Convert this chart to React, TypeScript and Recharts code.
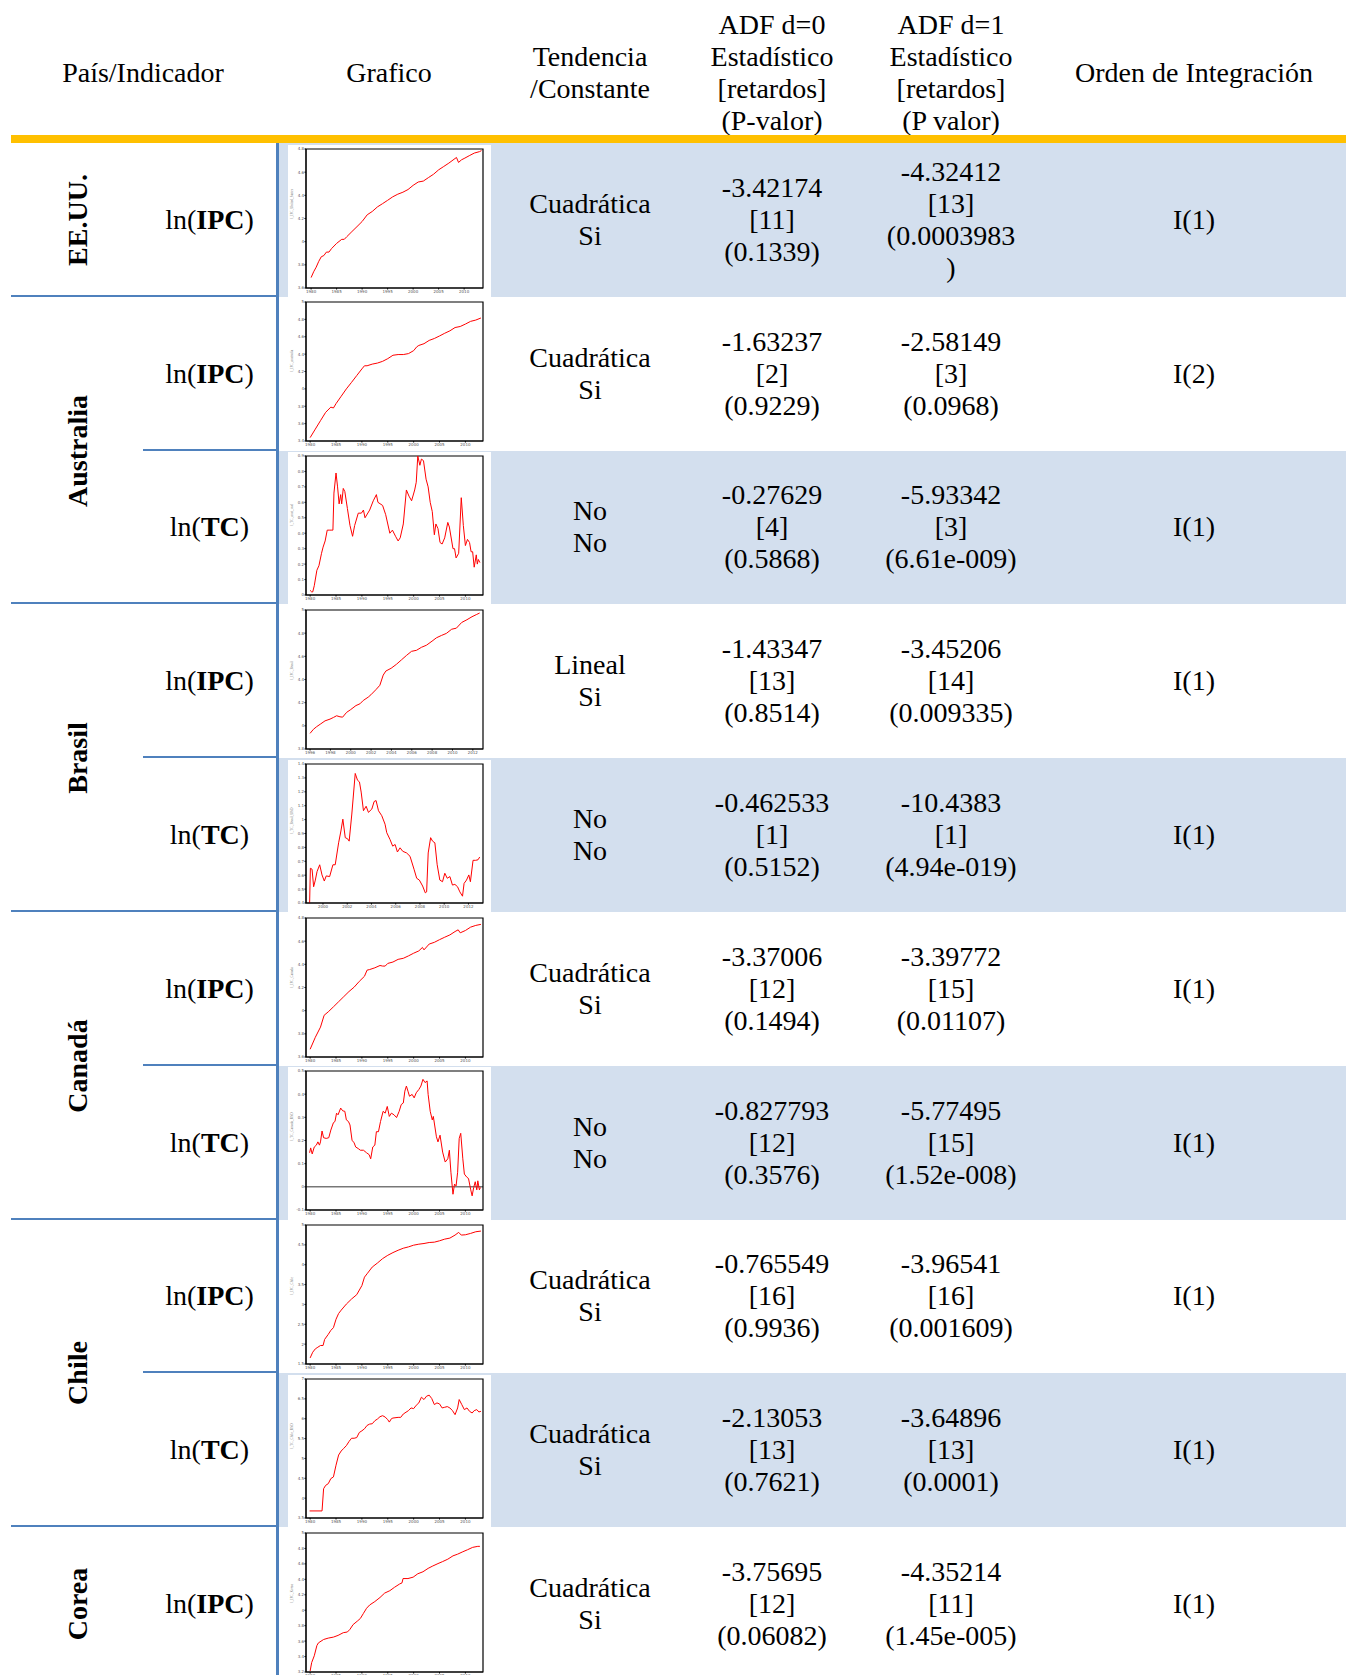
import { LineChart, Line, XAxis, YAxis, ReferenceLine, ReferenceArea } from 'recharts';

type Pt = [number, number];

// ---- series (year, value) ----
const usIpc: Pt[] = [
  [1980.0, 3.69], [1980.5, 3.74], [1981, 3.78], [1981.5, 3.83], [1982, 3.87], [1982.5, 3.88],
  [1983, 3.91], [1983.5, 3.91], [1984, 3.94], [1985, 3.985], [1986, 4.02], [1986.5, 4.02],
  [1987, 4.043], [1988, 4.087], [1989, 4.13], [1990, 4.174], [1991, 4.232], [1992, 4.261],
  [1993, 4.3], [1994, 4.328], [1995, 4.357], [1996, 4.387], [1997, 4.41], [1998, 4.427],
  [1999, 4.45], [2000, 4.486], [2001, 4.515], [2002, 4.523], [2003, 4.553], [2004, 4.582],
  [2005, 4.62], [2006, 4.649], [2007, 4.678], [2008.5, 4.727], [2008.9, 4.684], [2009.5, 4.707],
  [2010, 4.718], [2011, 4.742], [2012, 4.765], [2013, 4.777], [2013.4, 4.786],
];

const ausIpc: Pt[] = [
  [1980, 3.439], [1981, 3.537], [1982, 3.634], [1983, 3.73], [1984, 3.79], [1984.5, 3.78],
  [1985, 3.83], [1986, 3.915], [1987, 4.0], [1988, 4.075], [1989, 4.153], [1990, 4.23],
  [1990.5, 4.266], [1991, 4.266], [1992, 4.285], [1993, 4.297], [1994, 4.317], [1995, 4.348],
  [1996, 4.387], [1997, 4.395], [1998, 4.395], [1999, 4.406], [2000, 4.44], [2000.6, 4.484],
  [2001, 4.5], [2002, 4.52], [2003, 4.558], [2004, 4.58], [2005, 4.609], [2006, 4.64],
  [2007, 4.668], [2008, 4.706], [2009, 4.718], [2010, 4.746], [2011, 4.777], [2012, 4.792],
  [2013, 4.816],
];

const ausTc: Pt[] = [
  [1980.0, 0.03], [1980.3, 0.02], [1980.5, 0.02], [1980.8, 0.06], [1981.3, 0.16], [1981.7, 0.19],
  [1982.2, 0.27], [1982.5, 0.31], [1982.9, 0.35], [1983.3, 0.42], [1983.8, 0.42], [1984.2, 0.42],
  [1984.4, 0.42], [1984.6, 0.66], [1985.0, 0.79], [1985.3, 0.7], [1985.6, 0.59], [1985.9, 0.65],
  [1986.1, 0.59], [1986.4, 0.69], [1986.7, 0.67], [1987.2, 0.56], [1987.7, 0.45], [1988.2, 0.38],
  [1988.6, 0.45], [1989.3, 0.53], [1989.9, 0.53], [1990.3, 0.55], [1990.6, 0.5], [1991.5, 0.55],
  [1992.2, 0.61], [1992.8, 0.65], [1993.1, 0.6], [1994.0, 0.58], [1994.6, 0.52], [1995.4, 0.4],
  [1995.9, 0.42], [1996.5, 0.38], [1997.0, 0.35], [1997.4, 0.37], [1998.0, 0.46], [1998.6, 0.68],
  [1999.1, 0.64], [1999.6, 0.61], [2000.2, 0.68], [2000.5, 0.73], [2000.8, 0.9], [2001.2, 0.84],
  [2001.5, 0.88], [2001.9, 0.87], [2002.4, 0.75], [2002.8, 0.7], [2003.2, 0.6], [2003.6, 0.54],
  [2004.0, 0.39], [2004.3, 0.46], [2004.7, 0.43], [2005.1, 0.34], [2005.5, 0.33], [2006.0, 0.37],
  [2006.6, 0.47], [2006.9, 0.44], [2007.6, 0.3], [2007.9, 0.3], [2008.2, 0.24], [2008.7, 0.27],
  [2009.2, 0.63], [2009.6, 0.45], [2010.0, 0.32], [2010.4, 0.36], [2010.8, 0.34], [2011.1, 0.28],
  [2011.4, 0.28], [2011.7, 0.18], [2012.1, 0.26], [2012.3, 0.2], [2012.5, 0.23], [2012.8, 0.21],
];

const braIpc: Pt[] = [
  [1996.0, 3.935], [1996.33, 3.97], [1996.65, 3.993], [1997.0, 4.014], [1997.47, 4.043],
  [1997.96, 4.058], [1998.29, 4.072], [1998.61, 4.087], [1998.94, 4.078], [1999.2, 4.075],
  [1999.59, 4.116], [1999.99, 4.14], [2000.51, 4.175], [2000.9, 4.19], [2001.23, 4.219],
  [2001.72, 4.248], [2001.98, 4.268], [2002.47, 4.312], [2002.86, 4.35], [2003.19, 4.438],
  [2003.45, 4.473], [2003.97, 4.497], [2004.5, 4.532], [2004.99, 4.57], [2005.48, 4.608],
  [2005.97, 4.643], [2006.46, 4.652], [2006.95, 4.678], [2007.44, 4.696], [2007.99, 4.731],
  [2008.42, 4.76], [2008.91, 4.78], [2009.4, 4.798], [2009.92, 4.834], [2010.38, 4.843],
  [2010.9, 4.892], [2011.42, 4.916], [2011.92, 4.942], [2012.34, 4.96], [2012.67, 4.974],
];

const braTc: Pt[] = [
  [1998.9, 0.4], [1998.96, 0.65], [1999.1, 0.643], [1999.23, 0.517], [1999.37, 0.565],
  [1999.51, 0.626], [1999.73, 0.675], [1999.92, 0.602], [2000.11, 0.558], [2000.27, 0.595],
  [2000.55, 0.59], [2000.82, 0.675], [2001.01, 0.675], [2001.29, 0.833], [2001.48, 0.918],
  [2001.64, 1.003], [2001.84, 0.87], [2002.03, 0.862], [2002.16, 0.845], [2002.38, 1.04],
  [2002.66, 1.332], [2002.85, 1.283], [2003.01, 1.271], [2003.15, 1.198], [2003.34, 1.064],
  [2003.56, 1.096], [2003.75, 1.052], [2004.03, 1.076], [2004.22, 1.13], [2004.38, 1.137],
  [2004.58, 1.064], [2004.85, 1.028], [2005.12, 0.967], [2005.26, 0.906], [2005.53, 0.857],
  [2005.75, 0.809], [2005.95, 0.821], [2006.14, 0.767], [2006.36, 0.797], [2006.58, 0.772],
  [2006.9, 0.76], [2007.18, 0.736], [2007.51, 0.643], [2007.73, 0.578], [2007.95, 0.565],
  [2008.22, 0.522], [2008.44, 0.473], [2008.55, 0.48], [2008.68, 0.76], [2008.88, 0.87],
  [2009.04, 0.845], [2009.23, 0.833], [2009.42, 0.675], [2009.64, 0.565], [2009.86, 0.553],
  [2010.05, 0.614], [2010.25, 0.578], [2010.47, 0.59], [2010.68, 0.529], [2010.88, 0.534],
  [2011.1, 0.517], [2011.29, 0.48], [2011.51, 0.449], [2011.64, 0.541], [2011.84, 0.565],
  [2012.03, 0.602], [2012.16, 0.553], [2012.38, 0.707], [2012.6, 0.707], [2012.79, 0.711],
  [2012.93, 0.731],
];

const canIpc: Pt[] = [
  [1980, 3.667], [1981, 3.77], [1982, 3.858], [1982.7, 3.96], [1983.5, 3.99], [1984.5, 4.033],
  [1985.5, 4.077], [1986.5, 4.121], [1987.5, 4.165], [1988.5, 4.203], [1989.5, 4.253],
  [1990.5, 4.297], [1991, 4.35], [1991.5, 4.355], [1992.5, 4.37], [1993.5, 4.39], [1994, 4.385],
  [1994.5, 4.385], [1995, 4.408], [1996, 4.42], [1997, 4.443], [1998, 4.452], [1999, 4.473],
  [2000, 4.496], [2001, 4.516], [2001.7, 4.546], [2002, 4.525], [2003, 4.575], [2004, 4.59],
  [2005, 4.613], [2006, 4.634], [2007, 4.654], [2008, 4.683], [2008.6, 4.698], [2009, 4.672],
  [2010, 4.692], [2011, 4.721], [2012, 4.736], [2013, 4.745],
];

const canTc: Pt[] = [
  [1979.9, 0.147], [1980.1, 0.168], [1980.4, 0.142], [1980.8, 0.172], [1981.2, 0.18], [1981.5, 0.194],
  [1981.8, 0.18], [1982.0, 0.194], [1982.3, 0.241], [1982.6, 0.212], [1983.1, 0.209], [1983.6, 0.212],
  [1984.0, 0.245], [1984.5, 0.277], [1984.8, 0.282], [1985.1, 0.318], [1985.4, 0.311], [1985.9, 0.34],
  [1986.3, 0.328], [1986.7, 0.326], [1987.0, 0.289], [1987.4, 0.282], [1987.7, 0.267], [1988.1, 0.201],
  [1988.5, 0.19], [1988.8, 0.172], [1989.3, 0.165], [1989.7, 0.158], [1990.3, 0.158], [1990.9, 0.147],
  [1991.4, 0.139], [1991.7, 0.121], [1992.1, 0.172], [1992.5, 0.18], [1992.8, 0.238], [1993.2, 0.238],
  [1993.6, 0.282], [1994.1, 0.326], [1994.5, 0.318], [1994.9, 0.347], [1995.3, 0.304], [1995.7, 0.318],
  [1996.2, 0.311], [1996.7, 0.299], [1997.2, 0.326], [1997.6, 0.355], [1998.0, 0.362], [1998.3, 0.413],
  [1998.6, 0.435], [1998.9, 0.413], [1999.2, 0.391], [1999.7, 0.399], [2000.1, 0.384], [2000.5, 0.406],
  [2001.0, 0.42], [2001.4, 0.435], [2001.8, 0.464], [2002.2, 0.45], [2002.6, 0.457], [2002.8, 0.399],
  [2003.2, 0.326], [2003.6, 0.289], [2003.8, 0.304], [2004.4, 0.216], [2004.7, 0.194], [2005.1, 0.223],
  [2005.6, 0.15], [2006.1, 0.107], [2006.6, 0.121], [2006.9, 0.158], [2007.2, 0.063], [2007.6, -0.032],
  [2007.9, 0.012], [2008.2, 0.004], [2008.5, 0.063], [2008.8, 0.209], [2009.1, 0.231], [2009.5, 0.121],
  [2009.8, 0.055], [2010.3, 0.041], [2010.6, 0.036], [2011.0, -0.01], [2011.3, -0.039], [2011.6, -0.003],
  [2011.9, 0.022], [2012.2, -0.013], [2012.4, 0.026], [2012.7, -0.013], [2012.9, -0.003],
];

const chlIpc: Pt[] = [
  [1980, 1.653], [1980.5, 1.797], [1981, 1.881], [1981.5, 1.924], [1982, 1.966], [1982.5, 1.966],
  [1982.8, 2.119], [1983.5, 2.246], [1984, 2.347], [1984.5, 2.415], [1985, 2.627], [1985.5, 2.771],
  [1986, 2.856], [1987, 3.009], [1988, 3.136], [1989, 3.246], [1990, 3.475], [1990.5, 3.687],
  [1991, 3.771], [1992, 3.941], [1993, 4.042], [1994, 4.153], [1995, 4.237], [1996, 4.305],
  [1997, 4.364], [1998, 4.415], [1999, 4.449], [2000, 4.492], [2001, 4.517], [2002, 4.534],
  [2003, 4.559], [2004, 4.568], [2005, 4.602], [2006, 4.644], [2007, 4.67], [2008, 4.746],
  [2008.7, 4.814], [2009.2, 4.746], [2010, 4.754], [2011, 4.788], [2012, 4.83], [2013, 4.847],
];

const chlTc: Pt[] = [
  [1979.9, 3.678], [1982.3, 3.678], [1982.6, 4.237], [1983, 4.322], [1983.5, 4.364], [1984, 4.492],
  [1984.5, 4.534], [1985, 4.83], [1985.5, 5.085], [1986, 5.187], [1986.5, 5.254], [1987, 5.322],
  [1987.5, 5.424], [1988, 5.508], [1988.5, 5.508], [1989, 5.525], [1989.5, 5.653], [1990, 5.695],
  [1990.5, 5.746], [1991, 5.831], [1991.5, 5.865], [1992, 5.873], [1992.5, 5.949], [1993, 5.992],
  [1993.5, 6.051], [1994, 6.076], [1994.5, 6.042], [1995, 5.975], [1995.3, 5.915], [1995.7, 6.0],
  [1996, 6.017], [1997, 6.034], [1997.5, 6.034], [1998, 6.119], [1999, 6.204], [1999.5, 6.271],
  [2000, 6.254], [2000.5, 6.339], [2001, 6.398], [2001.5, 6.542], [2002, 6.483], [2002.5, 6.568],
  [2003, 6.593], [2003.5, 6.508], [2004, 6.356], [2004.5, 6.398], [2005, 6.373], [2005.5, 6.271],
  [2006, 6.288], [2006.5, 6.305], [2007, 6.271], [2007.5, 6.204], [2008, 6.102], [2008.5, 6.271],
  [2008.8, 6.483], [2009.3, 6.356], [2009.8, 6.229], [2010.3, 6.271], [2010.8, 6.186], [2011.3, 6.144],
  [2011.7, 6.204], [2012.2, 6.229], [2012.6, 6.17], [2013, 6.186],
];

const korIpc: Pt[] = [
  [1980.0, 3.213], [1980.3, 3.323], [1980.8, 3.41], [1981.3, 3.542], [1981.6, 3.577], [1982.6, 3.621],
  [1983.5, 3.639], [1984.5, 3.652], [1985.4, 3.674], [1986.4, 3.709], [1987.2, 3.718], [1987.7, 3.753],
  [1988.3, 3.814], [1989.1, 3.858], [1989.7, 3.893], [1990.3, 3.959], [1990.9, 4.025], [1991.5, 4.068],
  [1992.5, 4.112], [1993.5, 4.165], [1994.4, 4.222], [1995.4, 4.253], [1996.3, 4.297], [1997.3, 4.34],
  [1997.75, 4.354], [1997.95, 4.41], [1998.9, 4.41], [1999.9, 4.428], [2000.8, 4.472], [2001.8, 4.498],
  [2002.8, 4.542], [2003.7, 4.573], [2004.7, 4.604], [2005.6, 4.63], [2006.6, 4.661], [2007.6, 4.704],
  [2008.5, 4.726], [2009.5, 4.757], [2010.4, 4.783], [2011.4, 4.814], [2012.4, 4.827], [2012.8, 4.827],
];

// ---- axis ticks ----
const yearTicks5 = [1980, 1985, 1990, 1995, 2000, 2005, 2010];
const braIpcYearTicks = [1996, 1998, 2000, 2002, 2004, 2006, 2008, 2010, 2012];
const braTcYearTicks = [2000, 2002, 2004, 2006, 2008, 2010, 2012];

const usIpcTicks = [3.6, 3.8, 4, 4.2, 4.4, 4.6, 4.8];
const ausIpcTicks = [3.4, 3.6, 3.8, 4, 4.2, 4.4, 4.6, 4.8, 5];
const ausTcTicks = [0, 0.1, 0.2, 0.3, 0.4, 0.5, 0.6, 0.7, 0.8, 0.9];
const braIpcTicks = [3.8, 4, 4.2, 4.4, 4.6, 4.8, 5];
const braTcTicks = [0.4, 0.5, 0.6, 0.7, 0.8, 0.9, 1, 1.1, 1.2, 1.3, 1.4];
const canIpcTicks = [3.6, 3.8, 4, 4.2, 4.4, 4.6, 4.8];
const canTcTicks = [-0.1, 0, 0.1, 0.2, 0.3, 0.4, 0.5];
const chlIpcTicks = [1.5, 2, 2.5, 3, 3.5, 4, 4.5, 5];
const chlTcTicks = [3.5, 4, 4.5, 5, 5.5, 6, 6.5, 7];
const korIpcTicks = [3.2, 3.4, 3.6, 3.8, 4, 4.2, 4.4, 4.6, 4.8, 5];

// ---- table text ----
const headers = [
  { cx: 143, lines: ['País/Indicador'] },
  { cx: 389, lines: ['Grafico'] },
  { cx: 590, lines: ['Tendencia', '/Constante'] },
  { cx: 772, lines: ['ADF d=0', 'Estadístico', '[retardos]', '(P-valor)'] },
  { cx: 951, lines: ['ADF d=1', 'Estadístico', '[retardos]', '(P valor)'] },
  { cx: 1194, lines: ['Orden de Integración'] },
];

const countries = [
  { name: 'EE.UU.', first: 0, span: 1 },
  { name: 'Australia', first: 1, span: 2 },
  { name: 'Brasil', first: 3, span: 2 },
  { name: 'Canadá', first: 5, span: 2 },
  { name: 'Chile', first: 7, span: 2 },
  { name: 'Corea', first: 9, span: 1 },
];

const indicators = ['IPC', 'IPC', 'TC', 'IPC', 'TC', 'IPC', 'TC', 'IPC', 'TC', 'IPC'];

const tendencia = [
  ['Cuadrática', 'Si'], ['Cuadrática', 'Si'], ['No', 'No'], ['Lineal', 'Si'], ['No', 'No'],
  ['Cuadrática', 'Si'], ['No', 'No'], ['Cuadrática', 'Si'], ['Cuadrática', 'Si'], ['Cuadrática', 'Si'],
];

const adf0 = [
  ['-3.42174', '[11]', '(0.1339)'],
  ['-1.63237', '[2]', '(0.9229)'],
  ['-0.27629', '[4]', '(0.5868)'],
  ['-1.43347', '[13]', '(0.8514)'],
  ['-0.462533', '[1]', '(0.5152)'],
  ['-3.37006', '[12]', '(0.1494)'],
  ['-0.827793', '[12]', '(0.3576)'],
  ['-0.765549', '[16]', '(0.9936)'],
  ['-2.13053', '[13]', '(0.7621)'],
  ['-3.75695', '[12]', '(0.06082)'],
];

const adf1 = [
  ['-4.32412', '[13]', '(0.0003983', ')'],
  ['-2.58149', '[3]', '(0.0968)'],
  ['-5.93342', '[3]', '(6.61e-009)'],
  ['-3.45206', '[14]', '(0.009335)'],
  ['-10.4383', '[1]', '(4.94e-019)'],
  ['-3.39772', '[15]', '(0.01107)'],
  ['-5.77495', '[15]', '(1.52e-008)'],
  ['-3.96541', '[16]', '(0.001609)'],
  ['-3.64896', '[13]', '(0.0001)'],
  ['-4.35214', '[11]', '(1.45e-005)'],
];

const orden = ['I(1)', 'I(2)', 'I(1)', 'I(1)', 'I(1)', 'I(1)', 'I(1)', 'I(1)', 'I(1)', 'I(1)'];

type ChartSpec = {
  data: Pt[];
  xDomain: [number, number];
  xTicks: number[];
  yDomain: [number, number];
  yTicks: number[];
  yLabel: string;
  zeroLine?: boolean;
};

const charts: ChartSpec[] = [
  { data: usIpc, xDomain: [1979.0, 2013.7], xTicks: yearTicks5, yDomain: [3.6, 4.8], yTicks: usIpcTicks, yLabel: 'l_IPC_United_States' },
  { data: ausIpc, xDomain: [1979.2, 2013.4], xTicks: yearTicks5, yDomain: [3.4, 5], yTicks: ausIpcTicks, yLabel: 'l_IPC_australia' },
  { data: ausTc, xDomain: [1979.2, 2013.4], xTicks: yearTicks5, yDomain: [0, 0.9], yTicks: ausTcTicks, yLabel: 'l_TC_aust_usd' },
  { data: braIpc, xDomain: [1995.6, 2013.0], xTicks: braIpcYearTicks, yDomain: [3.8, 5], yTicks: braIpcTicks, yLabel: 'l_IPC_Brasil' },
  { data: braTc, xDomain: [1998.6, 2013.2], xTicks: braTcYearTicks, yDomain: [0.4, 1.4], yTicks: braTcTicks, yLabel: 'l_TC_Brasil_USD' },
  { data: canIpc, xDomain: [1979.2, 2013.4], xTicks: yearTicks5, yDomain: [3.6, 4.8], yTicks: canIpcTicks, yLabel: 'l_IPC_Canada' },
  { data: canTc, xDomain: [1979.2, 2013.4], xTicks: yearTicks5, yDomain: [-0.1, 0.5], yTicks: canTcTicks, yLabel: 'l_TC_Canada_USD', zeroLine: true },
  { data: chlIpc, xDomain: [1979.2, 2013.4], xTicks: yearTicks5, yDomain: [1.5, 5], yTicks: chlIpcTicks, yLabel: 'l_IPC_Chile' },
  { data: chlTc, xDomain: [1979.2, 2013.4], xTicks: yearTicks5, yDomain: [3.5, 7], yTicks: chlTcTicks, yLabel: 'l_TC_Chile_USD' },
  { data: korIpc, xDomain: [1979.2, 2013.4], xTicks: yearTicks5, yDomain: [3.2, 5], yTicks: korIpcTicks, yLabel: 'l_IPC_Korea' },
];

const ROW_TOP = 143;
const ROW_H = 153.8;
const BLUE = '#4F81BD';
const SHADE = '#D3DFEE';
const tickStyle = { fontSize: 4, fill: '#555', fontFamily: 'DejaVu Sans, sans-serif' };

const MiniChart = ({ spec }: { spec: ChartSpec }) => {
  const data = spec.data.map(([x, y]) => ({ x, y }));
  return (
    <LineChart width={203} height={151} data={data} margin={{ top: 4, right: 8, bottom: 0, left: 0 }}>
      <XAxis
        type="number"
        dataKey="x"
        domain={spec.xDomain}
        ticks={spec.xTicks}
        interval={0}
        allowDataOverflow
        height={8}
        tick={tickStyle}
        tickSize={1.5}
        tickMargin={0.5}
        stroke="#000"
      />
      <YAxis
        type="number"
        domain={spec.yDomain}
        ticks={spec.yTicks}
        interval={0}
        allowDataOverflow
        width={18}
        tick={tickStyle}
        tickSize={1.5}
        tickMargin={0.5}
        stroke="#000"
        label={{ value: spec.yLabel, angle: -90, position: 'insideLeft', offset: 4, style: { fontSize: 3.5, fill: '#777' } }}
      />
      {/* plot frame */}
      <ReferenceArea
        x1={spec.xDomain[0]}
        x2={spec.xDomain[1]}
        y1={spec.yDomain[0]}
        y2={spec.yDomain[1]}
        fill="none"
        fillOpacity={0}
        stroke="#000"
        strokeWidth={1.2}
        ifOverflow="visible"
      />
      {spec.zeroLine && <ReferenceLine y={0} stroke="#000" strokeWidth={0.8} />}
      <Line type="linear" dataKey="y" stroke="#ff0000" strokeWidth={1} dot={false} isAnimationActive={false} />
    </LineChart>
  );
};

const TextCell = ({ cx, top, height, lines, w = 200 }: { cx: number; top: number; height: number; lines: string[]; w?: number }) => (
  <div
    style={{
      position: 'absolute',
      left: cx - w / 2,
      width: w,
      top,
      height,
      display: 'flex',
      flexDirection: 'column',
      alignItems: 'center',
      justifyContent: 'center',
      textAlign: 'center',
      lineHeight: '32px',
      whiteSpace: 'nowrap',
    }}
  >
    {lines.map((l, i) => (
      <div key={i}>{l}</div>
    ))}
  </div>
);

export default function App() {
  const rowTop = (i: number) => ROW_TOP + i * ROW_H;
  return (
    <div
      style={{
        position: 'absolute',
        left: 0,
        top: 0,
        width: 1346,
        height: 1675,
        overflow: 'hidden',
        background: '#fff',
        fontFamily: "'Liberation Serif', 'Times New Roman', serif",
        fontSize: 28,
        color: '#000',
      }}
    >
      {/* header */}
      {headers.map((h, i) => (
        <TextCell key={i} cx={h.cx} top={0} height={146} lines={h.lines} w={280} />
      ))}
      <div style={{ position: 'absolute', left: 11, top: 135, width: 1335, height: 8, background: '#FFC000' }} />

      {/* rows */}
      {charts.map((spec, i) => {
        const top = rowTop(i);
        return (
          <div key={i}>
            {i % 2 === 0 && (
              <div style={{ position: 'absolute', left: 279, top, width: 1346 - 279, height: ROW_H, background: SHADE }} />
            )}
            <div style={{ position: 'absolute', left: 288, top: top + 1.5, width: 203, height: ROW_H - 1.5, background: '#fff' }}>
              <MiniChart spec={spec} />
            </div>
            <div
              style={{
                position: 'absolute',
                left: 143,
                width: 133,
                top,
                height: ROW_H,
                display: 'flex',
                alignItems: 'center',
                justifyContent: 'center',
                whiteSpace: 'nowrap',
              }}
            >
              <span>
                ln(<b>{indicators[i]}</b>)
              </span>
            </div>
            <TextCell cx={590} top={top} height={ROW_H} lines={tendencia[i]} />
            <TextCell cx={772} top={top} height={ROW_H} lines={adf0[i]} />
            <TextCell cx={951} top={top} height={ROW_H} lines={adf1[i]} />
            <TextCell cx={1194} top={top} height={ROW_H} lines={[orden[i]]} />
          </div>
        );
      })}

      {/* country labels */}
      {countries.map((c) => {
        const cy = rowTop(c.first) + (c.span * ROW_H) / 2;
        return (
          <div
            key={c.name}
            style={{
              position: 'absolute',
              left: 78,
              top: cy,
              transform: 'translate(-50%, -50%) rotate(-90deg)',
              fontWeight: 'bold',
              whiteSpace: 'nowrap',
              lineHeight: '32px',
            }}
          >
            {c.name}
          </div>
        );
      })}

      {/* blue rules */}
      <div style={{ position: 'absolute', left: 275.5, top: 143, width: 3, height: 1675 - 143, background: BLUE }} />
      {charts.slice(0, 9).map((_, i) => {
        const full = countries.some((c) => c.first + c.span - 1 === i);
        const left = full ? 11 : 143;
        return (
          <div
            key={'h' + i}
            style={{ position: 'absolute', left, top: rowTop(i + 1) - 2, width: 278 - left, height: 2, background: BLUE }}
          />
        );
      })}
    </div>
  );
}
